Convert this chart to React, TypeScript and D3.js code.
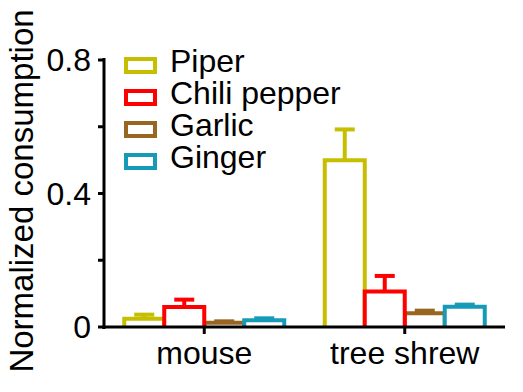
import React from "react";
import * as d3 from "d3";

const groups = ["mouse", "tree shrew"];
const seriesNames = ["Piper", "Chili pepper", "Garlic", "Ginger"];
const seriesColors = ["#c6bf00", "#ff0000", "#996622", "#179ab7"];
const piperValues = [0.025, 0.5];
const piperErrors = [0.012, 0.092];
const chiliValues = [0.06, 0.106];
const chiliErrors = [0.022, 0.047];
const garlicValues = [0.013, 0.041];
const garlicErrors = [0.004, 0.008];
const gingerValues = [0.02, 0.061];
const gingerErrors = [0.006, 0.006];
const majorTicks = [0, 0.4, 0.8];
const tickLabels = ["0", "0.4", "0.8"];
const minorTicks = [0.2, 0.6];

const values = [piperValues, chiliValues, garlicValues, gingerValues];
const errors = [piperErrors, chiliErrors, garlicErrors, gingerErrors];
const drawOrder = [0, 2, 1, 3];

const W = 523;
const H = 392;
const FONT = "'Liberation Sans', Arial, sans-serif";

export default function App() {
  const y = d3.scaleLinear().domain([0, 0.8]).range([327, 60]);
  const x = d3.scaleBand().domain(groups).range([104, 505]).padding(0);
  const inner = d3.scaleBand().domain(seriesNames).range([-80, 80]).padding(0);
  const bw = inner.bandwidth();
  const sw = 4;

  return (
    <svg width={W} height={H} style={{ position: "absolute", left: 0, top: 0, background: "#fff" }} fontFamily={FONT}>
      {/* bars */}
      {groups.map((g, gi) => {
        const cx = (x(g) as number) + x.bandwidth() / 2;
        return (
          <g key={g}>
            {drawOrder.map((si) => {
              const s = seriesNames[si];
              const bx = cx + (inner(s) as number);
              const v = values[si][gi];
              const e = errors[si][gi];
              const top = y(v);
              const et = y(v + e);
              const mid = bx + bw / 2;
              const col = seriesColors[si];
              return (
                <g key={s}>
                  <path
                    d={`M${bx},${y(0)}V${top}H${bx + bw}V${y(0)}`}
                    fill="#fff"
                    stroke={col}
                    strokeWidth={sw}
                  />
                  <line x1={mid} x2={mid} y1={top} y2={et} stroke={col} strokeWidth={sw} />
                  <line x1={mid - 10} x2={mid + 10} y1={et} y2={et} stroke={col} strokeWidth={sw} />
                </g>
              );
            })}
          </g>
        );
      })}
      {/* axes */}
      <line x1={104} x2={104} y1={58} y2={329} stroke="#000" strokeWidth={3} />
      <line x1={102.5} x2={505} y1={327} y2={327} stroke="#000" strokeWidth={3} />
      {majorTicks.map((t, i) => (
        <g key={"M" + t}>
          <line x1={98} x2={104} y1={y(t)} y2={y(t)} stroke="#000" strokeWidth={3} />
          <text x={91} y={y(t) + 11} textAnchor="end" fontSize={32}>
            {tickLabels[i]}
          </text>
        </g>
      ))}
      {minorTicks.map((t) => (
        <line key={"m" + t} x1={98} x2={104} y1={y(t)} y2={y(t)} stroke="#000" strokeWidth={3} />
      ))}
      {groups.map((g) => {
        const cx = (x(g) as number) + x.bandwidth() / 2;
        return (
          <g key={"xl" + g}>
            <line x1={cx} x2={cx} y1={327} y2={334} stroke="#000" strokeWidth={3} />
            <text x={cx} y={364} textAnchor="middle" fontSize={32}>
              {g}
            </text>
          </g>
        );
      })}
      <text
        transform={`translate(33,191) rotate(-90)`}
        textAnchor="middle"
        fontSize={33}
      >
        Normalized consumption
      </text>
      {/* legend */}
      {seriesNames.map((s, i) => {
        const base = 72 + i * 32;
        return (
          <g key={"lg" + s}>
            <rect x={126} y={base - 13} width={29} height={13} fill="#fff" stroke={seriesColors[i]} strokeWidth={4} />
            <text x={170} y={base} fontSize={32}>
              {s}
            </text>
          </g>
        );
      })}
    </svg>
  );
}
